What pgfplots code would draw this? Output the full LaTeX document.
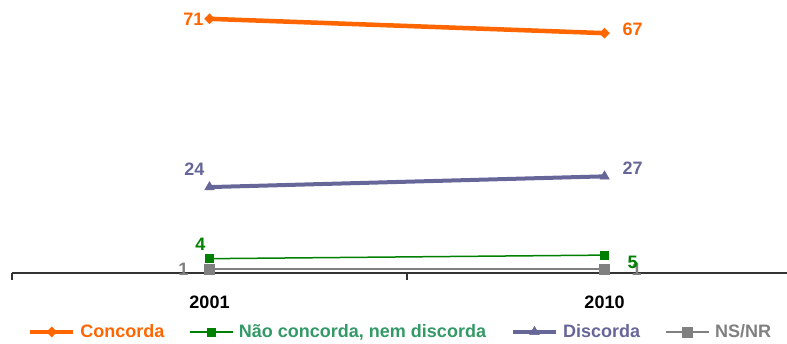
\documentclass[border=0pt]{standalone}
\usepackage{pgfplots}
\pgfplotsset{compat=1.18}
\usepackage{fontspec}
\setmainfont{Liberation Sans}
\definecolor{corange}{HTML}{FF6600}
\definecolor{cgreen}{HTML}{008000}
\definecolor{cgreenT}{HTML}{339966}
\definecolor{cpurple}{HTML}{666699}
\definecolor{cgrey}{HTML}{808080}
\definecolor{caxis}{HTML}{333333}
\newcommand{\lblfont}{\fontsize{18bp}{21bp}\selectfont\bfseries}
\begin{document}
\begin{tikzpicture}[x=1bp,y=1bp,font=\lblfont]
\path[use as bounding box] (0,0) rectangle (787,343);
\begin{axis}[
 at={(12bp,70bp)}, anchor=south west,
 width=775bp, height=273bp, scale only axis,
 xmin=-0.5, xmax=1.462, ymin=0, ymax=76.26,
 axis y line=none, axis x line*=bottom,
 x axis line style={-, draw=caxis, line width=2bp},
 xtick={0,1}, xticklabels={2001,2010},
 major tick length=0pt,
 extra x ticks={-0.5,0.5},
 extra x tick labels={,},
 extra x tick style={major tick length=7bp, tick align=outside, tick style={draw=caxis, line width=1.5bp}},
 xticklabel style={font=\lblfont, inner sep=0pt, anchor=north, yshift=-23bp},
 ytick=\empty,
 clip=false,
 legend columns=4,
 legend style={at={(0.5,-0.216)}, anchor=center, draw=none, fill=none, font=\lblfont, inner sep=0pt,
   nodes={inner sep=0pt},
   /tikz/every odd column/.append style={column sep=5bp},
   /tikz/every even column/.append style={column sep=25bp}},
 legend cell align=left,
 legend image code/.code={\draw[mark repeat=2,mark phase=2,#1] plot coordinates {(0bp,0bp) (21.5bp,0bp) (43bp,0bp)};},
]
\addplot[corange, line width=4.5bp, mark=diamond*, mark size=5bp, mark options={solid, line width=0.5bp, xscale=1.3}] coordinates {(0,71) (1,67)};
\addlegendentry{\textcolor{corange}{Concorda}}
\addplot[cgreen, line width=1.5bp, mark=square*, mark size=4bp, mark options={solid, line width=0.5bp}] coordinates {(0,4) (1,5)};
\addlegendentry{\textcolor{cgreenT}{Não concorda, nem discorda}}
\addplot[cpurple, line width=4bp, mark=triangle*, mark size=5.5bp, mark options={solid, line width=0.5bp}] coordinates {(0,24) (1,27)};
\addlegendentry{\textcolor{cpurple}{Discorda}}
\addplot[cgrey, line width=2bp, mark=square*, mark size=5bp, mark options={solid, line width=0.5bp}] coordinates {(0,1) (1,1)};
\addlegendentry{\textcolor{cgrey}{NS/NR}}

\node[anchor=east, inner sep=0pt, text=corange, xshift=-6bp] at (axis cs:0,71) {71};
\node[anchor=west, inner sep=0pt, text=corange, xshift=18bp, yshift=4bp] at (axis cs:1,67) {67};
\node[anchor=south east, inner sep=0pt, text=cpurple, xshift=-5bp, yshift=11bp] at (axis cs:0,24) {24};
\node[anchor=west, inner sep=0pt, text=cpurple, xshift=18bp, yshift=8bp] at (axis cs:1,27) {27};
\node[anchor=south east, inner sep=0pt, text=cgreen, xshift=-4bp, yshift=8bp] at (axis cs:0,4) {4};
\node[anchor=west, inner sep=0pt, text=cgrey, xshift=27bp] at (axis cs:1,1) {1};
\node[anchor=west, inner sep=0pt, text=cgreen, xshift=23bp, yshift=-7bp] at (axis cs:1,5) {5};
\node[anchor=east, inner sep=0pt, text=cgrey, xshift=-21bp] at (axis cs:0,1) {1};
\end{axis}
\end{tikzpicture}
\end{document}
